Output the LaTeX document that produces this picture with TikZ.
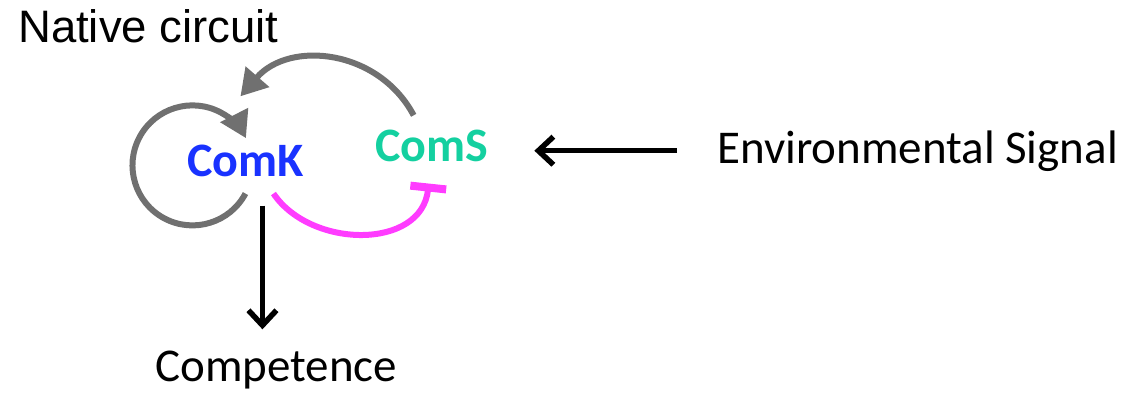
\documentclass[tikz,border=0pt]{standalone}
\usepackage{fontspec}
\setmainfont{Carlito}
\newfontfamily\arialfont{Liberation Sans}
\usepackage{tikz}
\usetikzlibrary{arrows.meta}

\definecolor{comkblue}{RGB}{25,50,255}
\definecolor{comsgreen}{RGB}{20,208,160}
\definecolor{repmag}{RGB}{255,60,255}
\definecolor{actgray}{RGB}{112,112,112}

\begin{document}
\begin{tikzpicture}[x=1pt,y=1pt,
    lbl/.style={inner sep=0pt,anchor=base west,font=\fontsize{47}{52}\selectfont},
    gene/.style={inner sep=0pt,anchor=base west,font=\fontsize{48}{52}\selectfont\bfseries},
    act/.style={actgray,line width=6pt,-{Triangle[length=26pt,width=30pt]}},
    rep/.style={repmag,line width=6pt,-{Bar[width=36pt,line width=8pt]}},
    sig/.style={black,line width=5.5pt,-{Straight Barb[length=15pt,width=28pt]}}]
         \useasboundingbox (0,0) rectangle (1140,392);
         \node[inner sep=0pt,anchor=base west,font=\fontsize{45.5}{50}\selectfont\arialfont]
           (title) at (18,349) {Native circuit};
         \node[gene,text=comkblue] (comk) at (187,216) {ComK};
         \node[gene,text=comsgreen] (coms) at (375,231) {ComS};
         \node[lbl] (env) at (717,229) {Environmental Signal};
         \node[lbl] (comp) at (155,11) {Competence};
         % ComK feeds back on itself
         \draw[act] ([shift={(0,-17)}]comk.south) arc[start angle=-28,end angle=-333,radius=60];
         % ComS activates ComK
         \draw[act] ([shift={(-18,14)}]coms.north) to[out=118,in=49,looseness=1.1]
           ([shift={(-5,48)}]comk.north);
         % ComK represses ComS
         \draw[rep] ([shift={(28,-17)}]comk.south) to[out=-56,in=-96,looseness=1.1]
           ([shift={(-3,-22)}]coms.south);
         \draw[sig,shorten <=40pt,shorten >=46pt] (env.west) -- (env.west -| coms.east);
         \draw[sig,shorten <=29pt,shorten >=21pt] ([xshift=17pt]comk.south)
           -- ([xshift=17pt]comk.south |- comp.north);
       \end{tikzpicture}
\end{document}
